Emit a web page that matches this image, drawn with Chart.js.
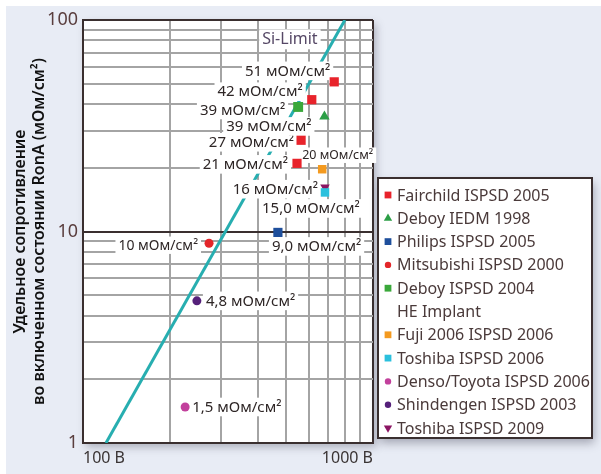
<!DOCTYPE html>
<html>
<head>
<meta charset="utf-8">
<script src="https://cdn.jsdelivr.net/npm/chart.js@4"></script>
<style>
  html, body { margin: 0; background: #fff; }
  canvas { display: block; }
</style>
</head>
<body>
<canvas id="chart" width="601" height="474"></canvas>
<script>
// --- data ---
const seriesNames = [
  'Fairchild ISPSD 2005', 'Deboy IEDM 1998', 'Philips ISPSD 2005', 'Mitsubishi ISPSD 2000',
  ['Deboy ISPSD 2004', 'HE Implant'], 'Fuji 2006 ISPSD 2006', 'Toshiba ISPSD 2006',
  'Denso/Toyota ISPSD 2006', 'Shindengen ISPSD 2003', 'Toshiba ISPSD 2009'
];
const seriesVolts = [[735, 615, 565, 547], [680], [470], [272], [552], [668], [683], [225], [247], [683]];
const seriesRon   = [[51, 42, 27, 21], [35], [9.9], [8.8], [38.8], [19.7], [15.3], [1.48], [4.7], [16.2]];
const seriesTags  = [['51', '42', '27', '21'], ['39'], ['9,0'], ['10'], ['39'], ['20'], ['15,0'], ['1,5'], ['4,8'], ['16']];
const siLimitVolts = [120, 800];
const siLimitRon = [1, 100];
const xTicks = [100, 200, 300, 400, 500, 600, 700, 800, 900, 1000];
const yTicks = [1, 2, 3, 4, 5, 6, 7, 8, 9, 10, 20, 30, 40, 50, 60, 70, 80, 90, 100];
const unit = ' мОм/см²';

// --- styles ---
const FONT = '"Noto Sans", "DejaVu Sans", sans-serif';
const DARK = '#3a2f2f';
const GRID = '#a4a4a4';
const TEXT = '#2e2626';
const seriesColors = ['#e8232b', '#2c9e46', '#1e4f9c', '#e3262a', '#3aa83a', '#f49a1f', '#2bc0dd', '#c2409c', '#55207a', '#8b1563'];
const seriesShapes = ['rect', 'triangle', 'rect', 'circle', 'rect', 'rect', 'rect', 'circle', 'circle', 'triangle'];
const seriesRotation = [0, 0, 0, 0, 0, 0, 0, 0, 0, 180];
const seriesRadius = [6.5, 6, 6.5, 4.5, 7, 6, 6, 4.5, 4.5, 5.5];
// tag placement relative to its point: [align, dx, dy, fontSize]
const tagLayout = [
  [['right', -4, -11, 15], ['right', -9, -8, 15], ['right', -7, 2, 15], ['right', -9, 1, 15]],
  [['right', -13, 10, 15]],
  [['left', -6, 14, 15]],
  [['right', -11, 2, 14]],
  [['right', -13, 3, 15]],
  [['left', -20, -14, 12.5]],
  [['left', -63, 16, 15]],
  [['left', 7, 0, 15]],
  [['left', 9, 0, 15]],
  [['right', -7, 2, 15]]
];
const siTag = { text: 'Si-Limit', x: 517, y: 81 };

const datasets = seriesNames.map((name, i) => ({
  type: 'scatter',
  label: name,
  data: seriesVolts[i].map((v, j) => ({ x: v, y: seriesRon[i][j] })),
  backgroundColor: seriesColors[i],
  borderColor: seriesColors[i],
  borderWidth: 0,
  pointStyle: seriesShapes[i],
  rotation: seriesRotation[i],
  pointRadius: seriesRadius[i],
  pointHoverRadius: seriesRadius[i]
}));
datasets.push({
  type: 'line',
  label: 'Si-Limit',
  data: siLimitVolts.map((v, j) => ({ x: v, y: siLimitRon[j] })),
  borderColor: '#27aeb0',
  borderWidth: 3,
  pointRadius: 0,
  fill: false
});

function drawTag(ctx, text, x, y, align, size, color) {
  ctx.font = `${size}px ${FONT}`;
  const w = ctx.measureText(text).width;
  const left = align === 'right' ? x - w : align === 'center' ? x - w / 2 : x;
  ctx.fillStyle = '#fff';
  ctx.fillRect(left - 3, y - size * 0.62, w + 6, size * 1.24);
  ctx.fillStyle = color || TEXT;
  ctx.textAlign = 'left';
  ctx.textBaseline = 'middle';
  ctx.fillText(text, left, y + 0.5);
}

const backdrop = {
  id: 'backdrop',
  beforeDraw(chart) {
    const { ctx, chartArea: a } = chart;
    ctx.save();
    ctx.fillStyle = '#fff';
    ctx.fillRect(0, 0, chart.width, chart.height);
    ctx.fillStyle = '#e8ecf5';
    ctx.fillRect(6, 6, chart.width - 6, chart.height - 6);
    ctx.shadowColor = 'rgba(60,60,80,0.35)';
    ctx.shadowBlur = 8;
    ctx.shadowOffsetX = 3;
    ctx.shadowOffsetY = 4;
    ctx.fillStyle = '#fff';
    ctx.fillRect(a.left, a.top, a.right - a.left, a.bottom - a.top);
    ctx.restore();
  }
};

const tags = {
  id: 'tags',
  afterDatasetDraw(chart, args) {
    if (chart.data.datasets[args.index].type !== 'line') return;
    const { ctx, scales: { x, y } } = chart;
    ctx.save();
    drawTag(ctx, siTag.text, x.getPixelForValue(siTag.x), y.getPixelForValue(siTag.y), 'center', 16, '#564866');
    seriesTags.forEach((list, i) => {
      list.forEach((t, j) => {
        const [align, dx, dy, size] = tagLayout[i][j];
        const px = x.getPixelForValue(seriesVolts[i][j]);
        const py = y.getPixelForValue(seriesRon[i][j]);
        drawTag(ctx, t + unit, px + dx, py + dy, align, size);
      });
    });
    ctx.restore();
  }
};

const sideLegend = {
  id: 'sideLegend',
  afterDraw(chart) {
    const { ctx } = chart;
    const box = { x: 378, y: 178, w: 214, h: 260 };
    ctx.save();
    ctx.shadowColor = 'rgba(60,60,80,0.4)';
    ctx.shadowBlur = 9;
    ctx.shadowOffsetX = 2;
    ctx.shadowOffsetY = 5;
    ctx.fillStyle = '#fff';
    ctx.fillRect(box.x, box.y, box.w, box.h);
    ctx.shadowColor = 'transparent';
    ctx.strokeStyle = DARK;
    ctx.lineWidth = 2;
    ctx.strokeRect(box.x, box.y, box.w, box.h);
    ctx.font = `16px ${FONT}`;
    ctx.textBaseline = 'middle';
    ctx.textAlign = 'left';
    let line = 0;
    const step = 23.3;
    chart.data.datasets.forEach((ds) => {
      if (ds.type === 'line') return;
      const rows = Array.isArray(ds.label) ? ds.label : [ds.label];
      const cy = box.y + 17 + line * step;
      ctx.fillStyle = ds.backgroundColor;
      Chart.helpers.drawPoint(ctx, {
        pointStyle: ds.pointStyle,
        rotation: ds.rotation,
        radius: ds.pointStyle === 'circle' ? 3.2 : 4.8,
        borderWidth: 0
      }, box.x + 10, cy);
      ctx.fillStyle = '#4a3a3a';
      rows.forEach((r, k) => ctx.fillText(r, box.x + 19, cy + k * step + 1));
      line += rows.length;
    });
    ctx.restore();
  }
};

new Chart(document.getElementById('chart'), {
  type: 'scatter',
  data: { datasets },
  plugins: [backdrop, tags, sideLegend],
  options: {
    responsive: false,
    animation: false,
    layout: { padding: { left: 0, right: 228, top: 20, bottom: 0 } },
    plugins: { legend: { display: false }, tooltip: { enabled: false } },
    scales: {
      x: {
        type: 'logarithmic',
        min: 100,
        max: 1000,
        afterBuildTicks: (s) => { s.ticks = xTicks.map((v) => ({ value: v })); },
        afterFit: (s) => { s.height = 31; },
        border: { color: DARK, width: 2 },
        grid: {
          drawTicks: false,
          lineWidth: 2,
          color: (c) => (c.tick && c.tick.value === 1000 ? DARK : GRID)
        },
        ticks: {
          autoSkip: false,
          maxRotation: 0,
          align: 'inner',
          padding: 6,
          color: '#3a3434',
          font: { family: FONT, size: 16 },
          callback: (v) => (v === 100 || v === 1000 ? v + ' В' : '')
        }
      },
      y: {
        type: 'logarithmic',
        min: 1,
        max: 100,
        afterBuildTicks: (s) => { s.ticks = yTicks.map((v) => ({ value: v })); },
        afterFit: (s) => { s.width = 83; },
        border: { color: DARK, width: 2 },
        grid: {
          drawTicks: false,
          lineWidth: 2,
          color: (c) => (c.tick && (c.tick.value === 10 || c.tick.value === 100) ? DARK : GRID)
        },
        ticks: {
          autoSkip: false,
          padding: 5,
          color: '#5a3e3e',
          font: { family: FONT, size: 18 },
          callback: (v) => (v === 1 || v === 10 || v === 100 ? String(v) : '')
        },
        title: {
          display: true,
          text: ['Удельное сопротивление', 'во включенном состоянии RonA (мОм/см²)'],
          color: '#111',
          font: { family: FONT, size: 16, weight: '600' },
          padding: { top: 11, bottom: 0 }
        }
      }
    }
  }
});
</script>
</body>
</html>
